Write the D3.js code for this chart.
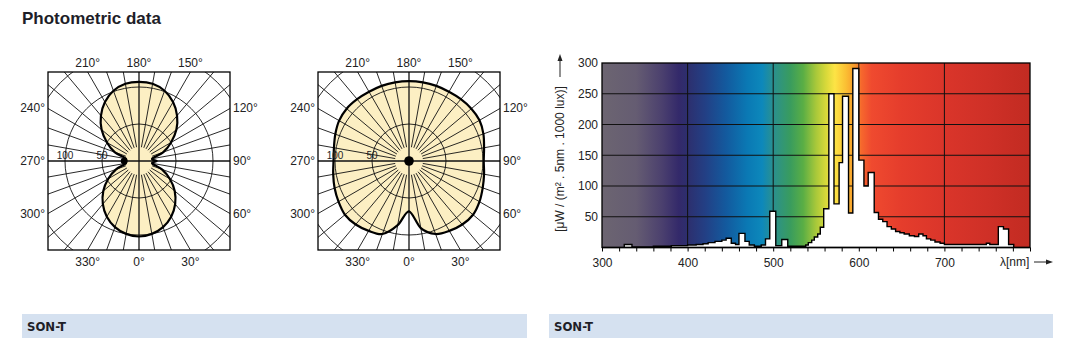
<!DOCTYPE html>
<html>
<head>
<meta charset="utf-8">
<script src="https://cdn.jsdelivr.net/npm/d3@7"></script>
<style>
  body { margin: 0; background: #fff; }
  text { font-family: 'Liberation Sans', Arial, sans-serif; fill: #222; }
</style>
</head>
<body>
<div id="chart"></div>
<script>
// ---------------- DATA ----------------
// polar diagrams, intensity in cd/klm, angle 0 = down, 90 = right
var polarAngles = [0, 10, 20, 30, 40, 50, 60, 70, 80, 90, 100, 110, 120, 130, 140, 150, 160, 170,
                   180, 190, 200, 210, 220, 230, 240, 250, 260, 270, 280, 290, 300, 310, 320, 330, 340, 350];
var polarLeftValues = [102, 100, 95, 87, 76, 63, 48, 33, 18, 24, 18, 35, 50, 66, 80, 92, 101, 106,
                       107, 106, 101, 92, 80, 66, 50, 35, 18, 23, 18, 33, 48, 63, 76, 87, 95, 100];
var polarRightValues = [68, 92, 105, 109, 112, 113, 110, 106, 103, 101, 103, 107, 110, 110, 109, 108, 108, 108,
                        108, 108, 108, 108, 109, 110, 109, 106, 103, 102, 104, 107, 110, 113, 112, 109, 105, 88];
var polarLabelAngles = [0, 30, 60, 90, 120, 150, 180, 210, 240, 270, 300, 330];
var polarRings = [50, 100, 150];
var polarRingLabels = [50, 100];

// spectral power distribution, steps of [start nm, value]
var spectrumStart = [300, 326, 335, 360, 381, 400, 410, 418, 424, 432, 440, 445, 451, 456, 460, 467, 472, 478, 486, 491,
                     496, 503, 510, 517, 538, 541, 545, 548, 552, 555, 559, 565, 571, 577, 581, 588, 593, 600, 606, 611,
                     618, 623, 628, 633, 638, 643, 648, 653, 659, 665, 670, 675, 679, 684, 689, 695, 700, 749, 753, 763,
                     769, 775, 781];
var spectrumValues = [0, 5, 1, 2, 3, 4, 5, 6, 8, 10, 12, 15, 7, 5, 23, 10, 4, 2, 4, 14,
                      59, 3, 13, 2, 4, 8, 12, 17, 22, 33, 63, 250, 71, 138, 246, 56, 291, 142, 100, 122,
                      57, 46, 42, 34, 30, 26, 24, 22, 19, 18, 22, 19, 14, 12, 9, 7, 5, 7, 5, 34,
                      30, 5, 0];
var spectrumXTicks = [300, 400, 500, 600, 700];
var spectrumYTicks = [50, 100, 150, 200, 250, 300];

// background colour of the spectrum (nm, colour)
var rainbowStops = [[300, '#6c6571'], [340, '#655c72'], [370, '#4b406e'], [390, '#33296a'], [400, '#2d2f6e'],
                    [420, '#233f84'], [445, '#135a9e'], [470, '#0a79b4'], [487, '#0d88bb'], [500, '#2a908f'],
                    [520, '#399c5e'], [535, '#5aae45'], [550, '#a8c83a'], [562, '#d9d93a'], [572, '#fde445'],
                    [585, '#fbbf33'], [595, '#f89a2c'], [603, '#f6682d'], [615, '#ef4a2f'], [650, '#e53d2c'],
                    [700, '#da352a'], [750, '#cf3027'], [800, '#c22b22']];

// ---------------- ATTRS ----------------
var attrs = {
    svgWidth: 1080,
    svgHeight: 363,
    polarHalfW: 91,
    polarHalfH: 89,
    polarCy: 161,
    fillColor: '#fcefc3',
    barColor: '#d5e1f0'
};

var svg = d3.select('#chart').append('svg')
    .attr('width', attrs.svgWidth)
    .attr('height', attrs.svgHeight);
var defs = svg.append('defs');

// title
svg.append('text')
    .attr('x', 22).attr('y', 24)
    .attr('font-size', 17).attr('font-weight', 700)
    .style('fill', '#1e1e28')
    .text('Photometric data');

/* ######################## POLAR ######################## */
function drawPolar(cx, values, id, dot) {
    var hw = attrs.polarHalfW, hh = attrs.polarHalfH;
    var r = d3.scaleLinear().domain([0, 100]).range([0, 74]);
    var rad = function (deg) { return deg * Math.PI / 180; };
    // angle 0 at bottom, growing to the right
    var pt = function (deg, rr) { return [rr * Math.sin(rad(deg)), rr * Math.cos(rad(deg))]; };

    var g = svg.append('g').attr('transform', 'translate(' + cx + ',' + attrs.polarCy + ')');

    defs.append('clipPath').attr('id', id)
        .append('rect').attr('x', -hw).attr('y', -hh).attr('width', 2 * hw).attr('height', 2 * hh);

    var line = d3.lineRadial()
        .angle(function (d, i) { return Math.PI - rad(polarAngles[i]); })
        .radius(function (d) { return r(d); })
        .curve(d3.curveCardinalClosed.tension(0.1));

    g.append('path').attr('d', line(values)).attr('fill', attrs.fillColor);

    var grid = g.append('g').attr('clip-path', 'url(#' + id + ')');
    grid.selectAll('circle').data(polarRings).enter().append('circle')
        .attr('r', function (d) { return r(d); })
        .attr('fill', 'none').attr('stroke', '#111').attr('stroke-width', 0.9);

    grid.selectAll('line').data(polarAngles).enter().append('line')
        .each(function (d) {
            var a = pt(d, d % 90 === 0 ? 0 : 14), b = pt(d, 200);
            d3.select(this).attr('x1', a[0]).attr('y1', a[1]).attr('x2', b[0]).attr('y2', b[1]);
        })
        .attr('stroke', '#111').attr('stroke-width', function (d) { return d % 90 === 0 ? 1.3 : 0.9; });

    g.append('path').attr('d', line(values))
        .attr('fill', 'none').attr('stroke', '#000').attr('stroke-width', 2.2);

    var dp = pt(dot.angle, r(dot.value));
    g.append('ellipse').attr('cx', dp[0]).attr('cy', dp[1])
        .attr('rx', dot.rx).attr('ry', dot.ry).attr('fill', '#000');

    g.append('rect').attr('x', -hw).attr('y', -hh).attr('width', 2 * hw).attr('height', 2 * hh)
        .attr('fill', 'none').attr('stroke', '#000').attr('stroke-width', 1.3);

    // ring values along 270
    g.selectAll('.ring-label').data(polarRingLabels).enter().append('text')
        .attr('class', 'ring-label')
        .attr('x', function (d) { return -r(d); }).attr('y', -2.5)
        .attr('text-anchor', 'middle').attr('font-size', 10)
        .text(function (d) { return d; });

    // angle labels where the ray meets the frame
    g.selectAll('.ang-label').data(polarLabelAngles).enter().append('text')
        .attr('class', 'ang-label')
        .attr('font-size', 12)
        .each(function (d) {
            var p = pt(d, 1), t = d3.select(this);
            var k = Math.min(Math.abs(p[0]) > 1e-9 ? hw / Math.abs(p[0]) : 1e9,
                             Math.abs(p[1]) > 1e-9 ? hh / Math.abs(p[1]) : 1e9);
            var ex = p[0] * k, ey = p[1] * k;
            if (Math.abs(Math.abs(ey) - hh) < 0.01) {
                t.attr('x', ex).attr('y', ey < 0 ? -hh - 5 : hh + 16).attr('text-anchor', 'middle');
            } else {
                t.attr('x', ex < 0 ? -hw - 3 : hw + 3).attr('y', ey + 4)
                    .attr('text-anchor', ex < 0 ? 'end' : 'start');
            }
        })
        .text(function (d) { return d + '°'; });
}

drawPolar(139, polarLeftValues, 'clipL', { angle: 270, value: 20, rx: 3.5, ry: 3.2 });
drawPolar(409, polarRightValues, 'clipR', { angle: 0, value: 0, rx: 4.8, ry: 4.8 });

/* ######################## SPECTRUM ######################## */
var x = d3.scaleLinear().domain([300, 800]).range([602, 1030]);
var y = d3.scaleLinear().domain([0, 300]).range([247.5, 63]);

var grad = defs.append('linearGradient').attr('id', 'rainbow')
    .attr('gradientUnits', 'userSpaceOnUse')
    .attr('x1', x(300)).attr('x2', x(800)).attr('y1', 0).attr('y2', 0);
grad.selectAll('stop').data(rainbowStops).enter().append('stop')
    .attr('offset', function (d) { return (d[0] - 300) / 500; })
    .attr('stop-color', function (d) { return d[1]; });

var spec = svg.append('g');
spec.append('rect')
    .attr('x', x(300)).attr('y', y(300))
    .attr('width', x(800) - x(300)).attr('height', y(0) - y(300))
    .attr('fill', 'url(#rainbow)');

spec.selectAll('.vgrid').data(spectrumXTicks.slice(1)).enter().append('line')
    .attr('class', 'vgrid')
    .attr('x1', function (d) { return x(d); }).attr('x2', function (d) { return x(d); })
    .attr('y1', y(0)).attr('y2', y(300))
    .attr('stroke', '#111').attr('stroke-width', 1);
spec.selectAll('.hgrid').data(spectrumYTicks.slice(0, -1)).enter().append('line')
    .attr('class', 'hgrid')
    .attr('x1', x(300)).attr('x2', x(800))
    .attr('y1', function (d) { return y(d); }).attr('y2', function (d) { return y(d); })
    .attr('stroke', '#111').attr('stroke-width', 1);

var steps = spectrumStart.map(function (s, i) { return [s, spectrumValues[i]]; });
steps.push([800, 0]);
var area = d3.area()
    .x(function (d) { return x(d[0]); })
    .y0(y(0))
    .y1(function (d) { return y(d[1]); })
    .curve(d3.curveStepAfter);
spec.append('path').datum(steps).attr('d', area)
    .attr('fill', '#fff').attr('stroke', '#000').attr('stroke-width', 1.4)
    .attr('stroke-linejoin', 'miter');

spec.append('rect')
    .attr('x', x(300)).attr('y', y(300))
    .attr('width', x(800) - x(300)).attr('height', y(0) - y(300))
    .attr('fill', 'none').attr('stroke', '#000').attr('stroke-width', 1.3);

// axes
var minorTicks = d3.range(300, 801, 20);
var xAxis = d3.axisBottom(x).tickValues(minorTicks).tickSize(4).tickPadding(7)
    .tickFormat(function (d) { return spectrumXTicks.indexOf(d) >= 0 ? d : ''; });
var gx = spec.append('g').attr('transform', 'translate(0,' + y(0) + ')').call(xAxis);
gx.select('.domain').remove();
gx.selectAll('line').attr('stroke', '#000');
gx.selectAll('text').attr('font-size', 12).attr('font-family', 'Liberation Sans, Arial, sans-serif').style('fill', '#222');

var yAxis = d3.axisLeft(y).tickValues(spectrumYTicks).tickSize(0).tickPadding(4);
var gy = spec.append('g').attr('transform', 'translate(' + x(300) + ',0)').call(yAxis);
gy.select('.domain').remove();
gy.selectAll('text').attr('font-size', 12).attr('font-family', 'Liberation Sans, Arial, sans-serif').style('fill', '#222');

// x title with arrow
spec.append('text').attr('x', 1000).attr('y', 266).attr('font-size', 12).text('λ[nm]');
spec.append('line').attr('x1', 1034).attr('x2', 1050).attr('y1', 262).attr('y2', 262)
    .attr('stroke', '#222').attr('stroke-width', 1);
spec.append('path').attr('d', 'M1053,262 L1046,259.5 L1046,264.5 Z').attr('fill', '#222');

// y title with arrow
spec.append('text')
    .attr('transform', 'translate(564,159) rotate(-90)')
    .attr('text-anchor', 'middle').attr('font-size', 12)
    .text('[μW / (m² . 5nm . 1000 lux)]');
spec.append('line').attr('x1', 560).attr('x2', 560).attr('y1', 77).attr('y2', 59)
    .attr('stroke', '#222').attr('stroke-width', 1);
spec.append('path').attr('d', 'M560,54 L557.5,61 L562.5,61 Z').attr('fill', '#222');

/* ######################## FOOTER BARS ######################## */
var bars = [{ x: 22, w: 505, label: 'SON-T' }, { x: 549, w: 504, label: 'SON-T' }];
var fb = svg.selectAll('.foot').data(bars).enter().append('g').attr('class', 'foot');
fb.append('rect')
    .attr('x', function (d) { return d.x; }).attr('y', 314)
    .attr('width', function (d) { return d.w; }).attr('height', 24)
    .attr('fill', attrs.barColor);
fb.append('text')
    .attr('x', function (d) { return d.x + 5; }).attr('y', 331)
    .attr('font-size', 13).attr('font-weight', 700)
    .style('font-family', "'DejaVu Sans Condensed', 'DejaVu Sans', sans-serif")
    .style('fill', '#1e1e28')
    .text(function (d) { return d.label; });
</script>
</body>
</html>
